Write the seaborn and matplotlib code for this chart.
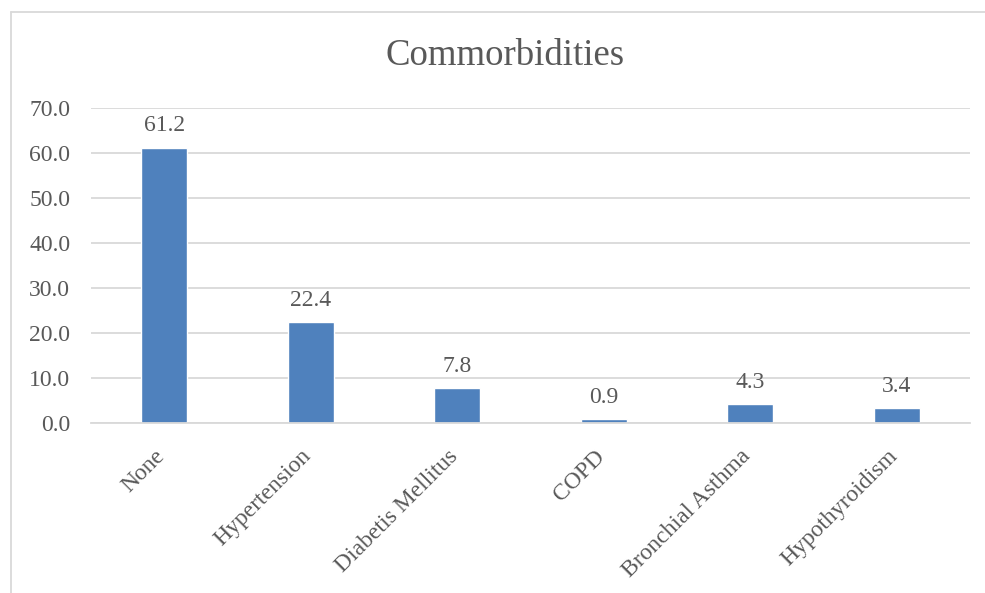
import matplotlib
matplotlib.use("Agg")
import matplotlib.pyplot as plt
import matplotlib.transforms as mtransforms
import seaborn as sns
import pandas as pd
from matplotlib.lines import Line2D

categories = ["None", "Hypertension", "Diabetis Mellitus", "COPD", "Bronchial Asthma", "Hypothyroidism"]
values = [61.2, 22.4, 7.8, 0.9, 4.3, 3.4]
yticks = [0, 10, 20, 30, 40, 50, 60, 70]
title = "Commorbidities"

sns.set_theme(style="white")
plt.rcParams['font.family'] = ['Liberation Serif', 'DejaVu Serif']

W, H = 985, 593
fig = plt.figure(figsize=(W/100, H/100), dpi=100)
ax = fig.add_axes([91/W, 1-423/H, (970-91)/W, (423-108)/H])

df = pd.DataFrame({"cat": categories, "val": values})
sns.barplot(data=df, x="cat", y="val", ax=ax, color="#4F81BD", saturation=1, width=0.314)

text_color = "#595959"
ax.set_ylim(0, 70)
ax.set_xlim(-0.5, len(categories)-0.5)
ax.set_yticks(yticks)
ax.set_yticklabels([f"{t:.1f}" for t in yticks], fontsize=17, color=text_color)
ax.set_xticks(range(len(categories)))
ax.set_xticklabels(categories, rotation=45, ha="right", rotation_mode="anchor", fontsize=17, color=text_color)
ax.tick_params(axis="y", length=0, pad=15)
ax.tick_params(axis="x", length=0, pad=12)
offset = mtransforms.ScaledTranslation(-10/100, -6/100, fig.dpi_scale_trans)
for lbl in ax.get_xticklabels():
    lbl.set_transform(lbl.get_transform() + offset)
ax.set_xlabel("")
ax.set_ylabel("")
for s in ["top", "right", "left"]:
    ax.spines[s].set_visible(False)
ax.spines["bottom"].set_color("#D9D9D9")
ax.spines["bottom"].set_linewidth(1.3)
ax.yaxis.grid(True, color="#D9D9D9", linewidth=1.3)
ax.set_axisbelow(True)

for i, v in enumerate(values):
    ax.annotate(f"{v:.1f}", (i, v), xytext=(0, 8), textcoords="offset points",
                ha="center", va="bottom", fontsize=17, color=text_color)

fig.text(505/W, 1-56/H, title, ha="center", va="center", fontsize=26.5, color=text_color)

# chart border (cropped frame)
fig.add_artist(Line2D([11/W, 11/W], [0, 1-12/H], color="#D9D9D9", linewidth=1.3, transform=fig.transFigure))
fig.add_artist(Line2D([11/W, 1], [1-12/H, 1-12/H], color="#D9D9D9", linewidth=1.3, transform=fig.transFigure))

fig.savefig("out.png", dpi=100, facecolor="white")
